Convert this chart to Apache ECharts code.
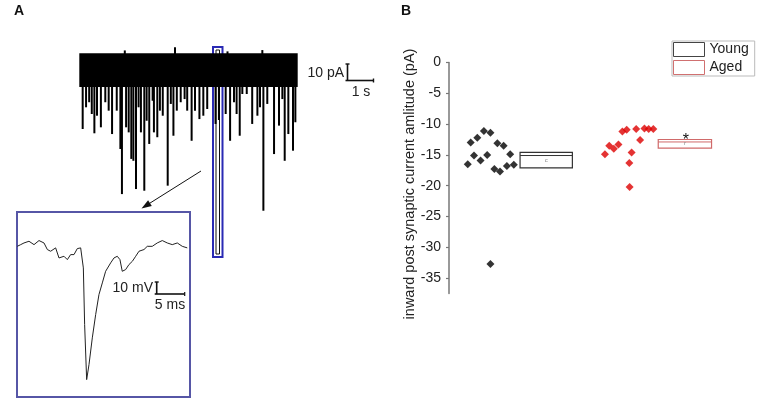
<!DOCTYPE html>
<html><head><meta charset="utf-8">
<script src="https://cdn.jsdelivr.net/npm/echarts@6/dist/echarts.min.js"></script>
<style>html,body{margin:0;padding:0;background:#fff}#c{width:778px;height:405px}</style>
</head><body><div id="c"></div>
<script>
// ---------- Panel A: continuous recording (time in s, current in pA) ----------
const spikeT = [0.13,0.26,0.38,0.48,0.58,0.68,0.83,1.00,1.13,1.26,1.44,1.58,1.64,1.80,1.90,2.00,2.08,2.18,2.28,2.37,2.50,2.59,2.69,2.82,2.87,3.00,3.10,3.21,3.40,3.52,3.62,3.75,3.90,4.05,4.15,4.32,4.45,4.62,4.77,4.92,5.24,5.37,5.63,5.80,5.95,6.05,6.17,6.27,6.44,6.65,6.85,6.95,7.08,7.23,7.49,7.68,7.81,7.90,8.04,8.22,8.31];
const spikeAmp = [-38.5,-26.9,-24.2,-30.5,-40.8,-31.4,-37.6,-24.2,-28.7,-41.2,-28.7,-49.2,-73.3,-37.6,-40.3,-54.5,-55.5,-70.6,-26.9,-40.3,-71.5,-34.1,-46.5,-23.4,-40.3,-42.9,-28.7,-31.4,-68.8,-25.1,-42.1,-28.7,-24.2,-22.5,-28.7,-44.8,-28.7,-33.2,-31.4,-27.8,-35.8,-33.7,-30.5,-44.8,-24.2,-30.5,-42.1,-19.8,-19.8,-35.8,-31.4,-26.9,-82.2,-25.1,-51.9,-36.7,-22.5,-55.5,-41.2,-50.1,-34.9];
const upT = [1.75,3.68,5.7,7.04];
const upAmp = [3.5,5.2,3,3.7];
const noiseBand = [[0, 8.4, 2, -16]];   // t0, t1, top pA, bottom pA

// ---------- Panel A inset: single event (time ms, mV) ----------
const insetT = [0.05,0.66,1.25,2.14,3.04,3.93,4.82,5.42,6.01,6.9,7.5,8.39,8.99,9.58,10.18,10.77,11.37,11.67,11.85,12.08,12.44,12.86,13.45,14.05,14.64,15.24,15.83,16.73,17.32,17.91,18.39,18.8,19.4,20.0,20.6,21.2,21.79,22.68,23.27,24.16,25.05,25.95,26.84,27.73,28.63,29.52,30.41];
const insetV = [-0.6,0.8,2.2,3.6,0.8,4.2,2.2,-3.3,-4.7,-1.9,-10.3,-8.9,-11.7,-7.5,-7.5,-2.5,-1.9,-3.3,-18.6,-65.8,-111.7,-99.2,-76.9,-57.5,-40.8,-31.1,-21.4,-14.4,-10.3,-8.9,-11.7,-21.4,-20,-15.8,-13.1,-8.9,-4.7,-3.3,-0.6,-0.6,2.2,4.2,2.2,0.8,2.2,-0.6,-1.9];

// ---------- Panel B: amplitudes (pA) ----------
const yTicks = [0,-5,-10,-15,-20,-25,-30,-35];
const groups = ['Young','Aged'];
const youngX = [5.7,6.6,7.6,8.6,9.6,10.6,11.6,12.6,12.6,13.8,14.7,15.5,16.6,17.6,18.6,19.7];
const youngY = [-16.5,-13.0,-15.1,-12.2,-15.9,-11.1,-15.0,-11.4,-32.7,-17.3,-13.1,-17.7,-13.5,-16.8,-14.9,-16.6];
const agedX = [47.4,48.7,50.1,51.5,52.7,54.0,54.8,54.9,55.5,56.9,58.1,59.4,60.7,62.1];
const agedY = [-14.9,-13.5,-14.0,-13.3,-11.2,-10.9,-16.3,-20.2,-14.6,-10.8,-12.6,-10.7,-10.8,-10.8];
const boxX0 = [21.6, 63.6];
const boxX1 = [37.5, 79.8];
const boxHi = [-14.6, -12.5];
const boxLo = [-17.1, -13.9];
const boxLine = [-15.1, -12.9];
const boxSig = ['', '*'];
const yName = 'inward post synaptic current amlitude (pA)';

const FONT = '"Liberation Sans", Arial, sans-serif';
const colors = {Young: '#000000', Aged: '#dd0000'};
const boxColors = {Young: '#333333', Aged: '#d06a6a'};

const chart = echarts.init(document.getElementById('c'), null, {renderer: 'canvas'});

function boxRender(gi) {
  return function (params, api) {
    const x0 = api.value(0), x1 = api.value(1), hi = api.value(2), lo = api.value(3), ln = api.value(4);
    const p0 = api.coord([x0, hi]), p1 = api.coord([x1, lo]), pl = api.coord([x0, ln]);
    const c = boxColors[groups[gi]];
    const mid = api.coord([(x0 + x1) / 2, (hi + lo) / 2]);
    const children = [
      {type: 'rect', shape: {x: p0[0], y: p0[1], width: p1[0] - p0[0], height: p1[1] - p0[1]},
       style: {fill: 'rgba(0,0,0,0)', stroke: c, lineWidth: 1.2}},
      {type: 'line', shape: {x1: p0[0], y1: pl[1], x2: p1[0], y2: pl[1]}, style: {stroke: c, lineWidth: 1}},
      {type: 'text', x: mid[0], y: mid[1], style: {text: gi === 0 ? 'c' : 'r', fontSize: 6, fill: '#888', align: 'center', verticalAlign: 'middle', fontFamily: FONT}}
    ];
    if (boxSig[gi]) {
      children.push({type: 'text', x: mid[0] + 1, y: p0[1] + 1,
        style: {text: boxSig[gi], fontSize: 16, fill: '#111', align: 'center', verticalAlign: 'middle', fontFamily: FONT}});
    }
    return {type: 'group', children};
  };
}

function spikeRender(params, api) {
  const t = api.value(0), a = api.value(1);
  const p0 = api.coord([t, 0]), p1 = api.coord([t, a]);
  return {type: 'line', shape: {x1: p0[0], y1: p0[1], x2: p1[0], y2: p1[1]}, style: {stroke: '#000', lineWidth: 2}};
}
function bandRender(params, api) {
  const p0 = api.coord([api.value(0), api.value(2)]);
  const p1 = api.coord([api.value(1), api.value(3)]);
  return {type: 'rect', shape: {x: p0[0], y: p0[1], width: p1[0] - p0[0], height: p1[1] - p0[1]}, style: {fill: '#000'}};
}

const hiddenAxis = (gi, min, max) => ({type: 'value', gridIndex: gi, min, max, show: false});

const option = {
  animation: false,
  backgroundColor: '#ffffff',
  grid: [
    {left: 79.3, top: 49.5, width: 218.4, height: 164.6},
    {left: 17, top: 212, width: 173, height: 184.8},
    {left: 449, top: 62.5, width: 329, height: 231}
  ],
  xAxis: [hiddenAxis(0, 0, 8.4), hiddenAxis(1, 0, 30.9), hiddenAxis(2, 0, 100)],
  yAxis: [
    hiddenAxis(0, -84, 4),
    hiddenAxis(1, -126, 28),
    {type: 'value', gridIndex: 2, min: -37.5, max: 0,
     axisLine: {show: true, lineStyle: {color: '#777', width: 1.5}},
     axisTick: {show: true, length: 3, customValues: yTicks, lineStyle: {color: '#777', width: 1.2}},
     axisLabel: {customValues: yTicks, fontSize: 14, color: '#222', margin: 8, fontFamily: FONT},
     splitLine: {show: false}}
  ],
  legend: {
    data: [
      {name: 'Young', icon: 'rect', itemStyle: {color: '#fff', borderColor: '#444', borderWidth: 1}},
      {name: 'Aged', icon: 'rect', itemStyle: {color: '#fff', borderColor: '#d07070', borderWidth: 1}}
    ],
    orient: 'vertical', left: 672, top: 41, itemWidth: 31, itemHeight: 14, itemGap: 3,
    padding: [1, 6, 1, 1], borderColor: '#bbb', borderWidth: 1, selectedMode: false,
    textStyle: {fontSize: 14, color: '#222', fontFamily: FONT}
  },
  series: [
    {type: 'custom', xAxisIndex: 0, yAxisIndex: 0, renderItem: bandRender, data: noiseBand, silent: true},
    {type: 'custom', xAxisIndex: 0, yAxisIndex: 0, renderItem: spikeRender,
     data: spikeT.map((t, i) => [t, spikeAmp[i]]), silent: true},
    {type: 'custom', xAxisIndex: 0, yAxisIndex: 0, renderItem: spikeRender,
     data: upT.map((t, i) => [t, upAmp[i]]), silent: true},
    {type: 'line', xAxisIndex: 1, yAxisIndex: 1, showSymbol: false, symbol: 'none',
     data: insetT.map((t, i) => [t, insetV[i]]), lineStyle: {color: '#222', width: 1}, silent: true},
    {type: 'scatter', xAxisIndex: 2, yAxisIndex: 2, symbol: 'diamond', symbolSize: 8,
     data: youngX.map((x, i) => [x, youngY[i]]), itemStyle: {color: colors.Young}},
    {type: 'scatter', xAxisIndex: 2, yAxisIndex: 2, symbol: 'diamond', symbolSize: 8,
     data: agedX.map((x, i) => [x, agedY[i]]), itemStyle: {color: colors.Aged}},
    {name: 'Young', type: 'custom', xAxisIndex: 2, yAxisIndex: 2, renderItem: boxRender(0),
     itemStyle: {color: '#444'}, data: [[boxX0[0], boxX1[0], boxHi[0], boxLo[0], boxLine[0]]]},
    {name: 'Aged', type: 'custom', xAxisIndex: 2, yAxisIndex: 2, renderItem: boxRender(1),
     itemStyle: {color: '#d07070'}, data: [[boxX0[1], boxX1[1], boxHi[1], boxLo[1], boxLine[1]]]}
  ],
  graphic: [
    {type: 'text', x: 14, y: 4, style: {text: 'A', font: 'bold 14px ' + FONT, fill: '#111'}},
    {type: 'text', x: 401, y: 4, style: {text: 'B', font: 'bold 14px ' + FONT, fill: '#111'}},
    // selection rectangle
    {type: 'rect', shape: {x: 213, y: 47, width: 9.5, height: 210}, style: {fill: 'none', stroke: '#2a2ab4', lineWidth: 2}},
    {type: 'rect', shape: {x: 216, y: 50, width: 3.5, height: 204}, style: {fill: 'none', stroke: '#111', lineWidth: 1}},
    // arrow
    {type: 'line', shape: {x1: 201, y1: 171, x2: 149.5, y2: 203.4}, style: {stroke: '#111', lineWidth: 1}},
    {type: 'polygon', shape: {points: [[141.5, 208.5], [151.8, 206.1], [148.1, 200.2]]}, style: {fill: '#111'}},
    // inset frame
    {type: 'rect', shape: {x: 17, y: 212, width: 173, height: 185}, style: {fill: 'none', stroke: '#5656a6', lineWidth: 2}},
    // scale bar A
    {type: 'text', x: 344, y: 73, style: {text: '10 pA', fontSize: 14, fill: '#222', align: 'right', verticalAlign: 'middle', fontFamily: FONT}},
    {type: 'line', shape: {x1: 347.5, y1: 64, x2: 347.5, y2: 81}, style: {stroke: '#111', lineWidth: 1.6}},
    {type: 'line', shape: {x1: 345.5, y1: 64, x2: 349.5, y2: 64}, style: {stroke: '#111', lineWidth: 1.4}},
    {type: 'line', shape: {x1: 345.5, y1: 80.5, x2: 373.5, y2: 80.5}, style: {stroke: '#111', lineWidth: 1.6}},
    {type: 'line', shape: {x1: 373.5, y1: 78.5, x2: 373.5, y2: 82.5}, style: {stroke: '#111', lineWidth: 1.4}},
    {type: 'text', x: 361, y: 92, style: {text: '1 s', fontSize: 14, fill: '#222', align: 'center', verticalAlign: 'middle', fontFamily: FONT}},
    // scale bar inset
    {type: 'text', x: 153, y: 288, style: {text: '10 mV', fontSize: 14, fill: '#222', align: 'right', verticalAlign: 'middle', fontFamily: FONT}},
    {type: 'line', shape: {x1: 156.7, y1: 282, x2: 156.7, y2: 294}, style: {stroke: '#111', lineWidth: 1.6}},
    {type: 'line', shape: {x1: 154.7, y1: 282, x2: 158.7, y2: 282}, style: {stroke: '#111', lineWidth: 1.4}},
    {type: 'line', shape: {x1: 154.7, y1: 294, x2: 184.7, y2: 294}, style: {stroke: '#111', lineWidth: 1.6}},
    {type: 'line', shape: {x1: 184.7, y1: 292, x2: 184.7, y2: 296}, style: {stroke: '#111', lineWidth: 1.2}},
    {type: 'text', x: 170, y: 305, style: {text: '5 ms', fontSize: 14, fill: '#222', align: 'center', verticalAlign: 'middle', fontFamily: FONT}},
    // y axis name of B
    {type: 'text', x: 410, y: 184, rotation: Math.PI / 2,
     style: {text: yName, fontSize: 14.5, fill: '#222', align: 'center', verticalAlign: 'middle', fontFamily: FONT}}
  ]
};
chart.setOption(option);
</script>
</body></html>
